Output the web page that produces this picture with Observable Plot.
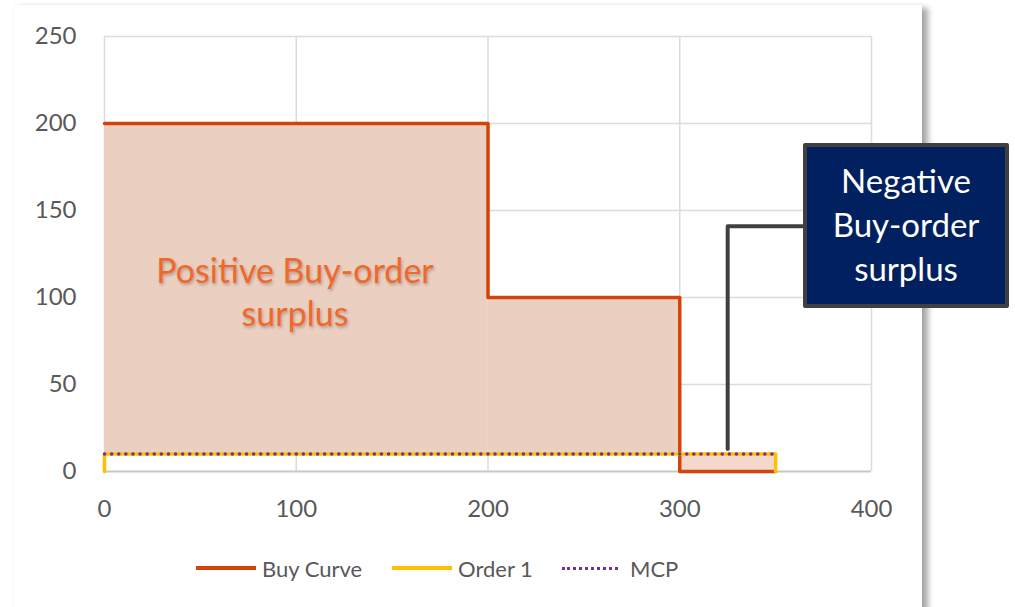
<!DOCTYPE html>
<html>
<head>
<meta charset="utf-8">
<script src="https://cdn.jsdelivr.net/npm/d3@7"></script>
<script src="https://cdn.jsdelivr.net/npm/@observablehq/plot@0.6"></script>
<style>
  html, body { margin: 0; padding: 0; background: #fff; }
  body { width: 1015px; height: 607px; overflow: hidden; position: relative; font-family: Lato, "Open Sans", sans-serif; }
  #panel { position: absolute; left: 14px; top: 5px; width: 908px; height: 640px; background: #fff;
           box-shadow: 6px 3px 6px rgba(0,0,0,0.35), 0 0 2px rgba(0,0,0,0.08); }
  #chart { position: absolute; left: 0; top: 0; }
  .legend { position: absolute; top: 553px; left: 0; width: 1015px; height: 30px; font-size: 22px; color: #595959; }
  .legend .item { position: absolute; top: 0; display: flex; align-items: center; height: 30px; }
  .legend .sw { width: 60px; height: 0; margin-right: 6px; }
  .posLabel { position: absolute; left: 295px; top: 248px; transform: translateX(-50%); text-align: center;
              font-size: 34px; line-height: 43px; color: #F0692A; white-space: nowrap;
              text-shadow: 1px 2px 3px rgba(0,0,0,0.25); }
  .callout { position: absolute; left: 803px; top: 143px; width: 198px; height: 157px; background: #002060;
             border: 4px solid #404040; border-radius: 2px; color: #fff; font-size: 33px; line-height: 44px;
             text-align: center; display: flex; align-items: center; justify-content: center; }
</style>
</head>
<body>
<div id="panel"></div>
<div id="chart"></div>
<div class="posLabel">Positive Buy-order<br>surplus</div>
<div class="callout"><div style="margin-top:-4px">Negative<br>Buy-order<br>surplus</div></div>
<div class="legend" id="legend"></div>
<script>
// ---- data ----
const xTicks = [0, 100, 200, 300, 400];
const yTicks = [0, 50, 100, 150, 200, 250];

// Buy curve (step-after): quantity, price
const buyQty   = [0, 200, 300, 350];
const buyPrice = [200, 100, 0, 0];

// Order 1
const orderQty   = [0, 0, 350, 350];
const orderPrice = [0, 10, 10, 0];

// Market clearing price
const mcpQty   = [0, 350];
const mcpPrice = [10, 10];
const mcpValue = 10;

// Connector line for the callout
const connQty   = [325, 325, 364.5];
const connPrice = [13, 141, 141];

const legendNames = ["Buy Curve", "Order 1", "MCP"];

// ---- derived tables ----
const buyPts = buyQty.map((q, i) => ({q, p: buyPrice[i]}));
const orderPts = orderQty.map((q, i) => ({q, p: orderPrice[i]}));
const mcpPts = mcpQty.map((q, i) => ({q, p: mcpPrice[i]}));
const connPts = connQty.map((q, i) => ({q, p: connPrice[i]}));
const surplus = [];
for (let i = 0; i < buyQty.length - 1; i++) {
  const p = buyPrice[i];
  surplus.push({x1: buyQty[i], x2: buyQty[i + 1], y1: Math.min(p, mcpValue), y2: Math.max(p, mcpValue), pos: p >= mcpValue});
}

const cBuy = "#D2440A", cOrder = "#FFC000", cMcp = "#7030A0";

const chart = Plot.plot({
  width: 1015,
  height: 607,
  marginLeft: 104,
  marginRight: 144,
  marginTop: 36,
  marginBottom: 136,
  style: {background: "transparent", fontFamily: "Lato, 'Open Sans', sans-serif"},
  x: {domain: [0, 400]},
  y: {domain: [0, 250]},
  marks: [
    Plot.gridX(xTicks, {stroke: "#dcdcdc", strokeOpacity: 1, strokeWidth: 1.5}),
    Plot.gridY(yTicks.filter(d => d > 0), {stroke: "#dcdcdc", strokeOpacity: 1, strokeWidth: 1.5}),
    Plot.ruleY([0], {stroke: "#c8c8c8", strokeWidth: 2}),
    Plot.rect(surplus, {x1: "x1", x2: "x2", y1: "y1", y2: "y2", fill: d => d.pos ? "#EBCFC1" : "#F5D8CD"}),
    Plot.line(buyPts, {x: "q", y: "p", curve: "step-after", stroke: cBuy, strokeWidth: 3.5}),
    Plot.line(orderPts, {x: "q", y: "p", stroke: cOrder, strokeWidth: 3.5}),
    Plot.line(mcpPts, {x: "q", y: "p", stroke: cMcp, strokeWidth: 3.5, strokeDasharray: "0.1 7", strokeLinecap: "round"}),
    Plot.line(connPts, {x: "q", y: "p", stroke: "#404040", strokeWidth: 4}),
    Plot.axisY(yTicks, {tickSize: 0, tickPadding: 28, fontSize: 24, fill: "#595959"}),
    Plot.axisX(xTicks, {tickSize: 0, tickPadding: 28, fontSize: 24, fill: "#595959"})
  ]
});
document.getElementById("chart").appendChild(chart);

// ---- legend ----
const legend = document.getElementById("legend");
const legendStyles = [
  {left: 196, border: `4px solid ${cBuy}`},
  {left: 392, border: `4px solid ${cOrder}`},
  {left: 562, border: `3px dotted ${cMcp}`}
];
legendNames.forEach((name, i) => {
  const it = document.createElement("div");
  it.className = "item";
  it.style.left = legendStyles[i].left + "px";
  const sw = document.createElement("div");
  sw.className = "sw";
  sw.style.borderTop = legendStyles[i].border;
  if (i === 2) { sw.style.width = "56px"; sw.style.marginRight = "12px"; }
  it.appendChild(sw);
  const t = document.createElement("span");
  t.textContent = name;
  it.appendChild(t);
  legend.appendChild(it);
});
</script>
</body>
</html>
